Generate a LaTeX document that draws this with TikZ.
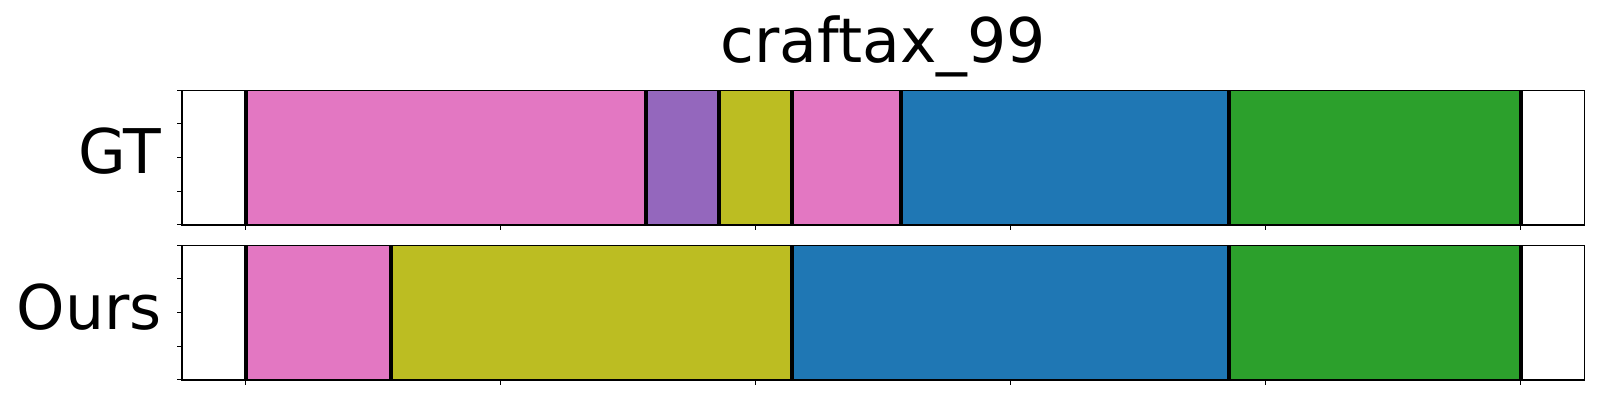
\documentclass[tikz,border=0pt]{standalone}
\usepackage{fontspec}
\setmainfont{DejaVu Sans}
\usepackage{tikz}
\usetikzlibrary{positioning}

\definecolor{tabpink}{HTML}{E377C2}
\definecolor{tabpurple}{HTML}{9467BD}
\definecolor{tabolive}{HTML}{BCBD22}
\definecolor{tabblue}{HTML}{1F77B4}
\definecolor{tabgreen}{HTML}{2CA02C}

\begin{document}
\begin{tikzpicture}[
    x=18.215pt, y=-0.5pt,
    font=\fontsize{30.8}{37}\selectfont,
    lbl/.style={inner sep=0pt},
    frame/.style={draw=black, line width=0.6pt},
    cut/.style={draw=black, line width=2pt},
    tick/.style={draw=black, line width=0.5pt},
  ]
  \useasboundingbox (-6.745,0) rectangle (37.18,400);

  % GT segments
  \foreach \a/\b/\c in {0/11/tabpink, 11/13/tabpurple, 13/15/tabolive,
                        15/18/tabpink, 18/27/tabblue, 27/35/tabgreen} {
    \fill[\c] (\a,90.3) rectangle (\b,225);
  }
  \foreach \a in {0,11,13,15,18,27,35} {
    \draw[cut] (\a,90.3) -- (\a,225);
  }

  % Ours segments
  \foreach \a/\b/\c in {0/4/tabpink, 4/15/tabolive, 15/27/tabblue,
                        27/35/tabgreen} {
    \fill[\c] (\a,245.3) rectangle (\b,380);
  }
  \foreach \a in {0,4,15,27,35} {
    \draw[cut] (\a,245.3) -- (\a,380);
  }

  % Frames and ticks
  \foreach \top/\bot in {90.3/225, 245.3/380} {
    \draw[frame] (-1.75,\top) rectangle (36.75,\bot);
    \foreach \t in {0,7,...,35} {
      \draw[tick] (\t,\bot) -- ++(0,4.7);
    }
    \foreach \k in {0,1,...,4} {
      \draw[tick] (-1.75,{\top+\k*(\bot-\top)/4}) -- ++(-0.13,0);
    }
  }

  % Labels
  \node[lbl, anchor=base] (title) at (17.5,62.3) {craftax\_99};
  \node[lbl, anchor=base east] (gt) at (-2.3,174) {GT};
  \node[lbl, anchor=base east] (ours) at (-2.3,330) {Ours};

\end{tikzpicture}
\end{document}
